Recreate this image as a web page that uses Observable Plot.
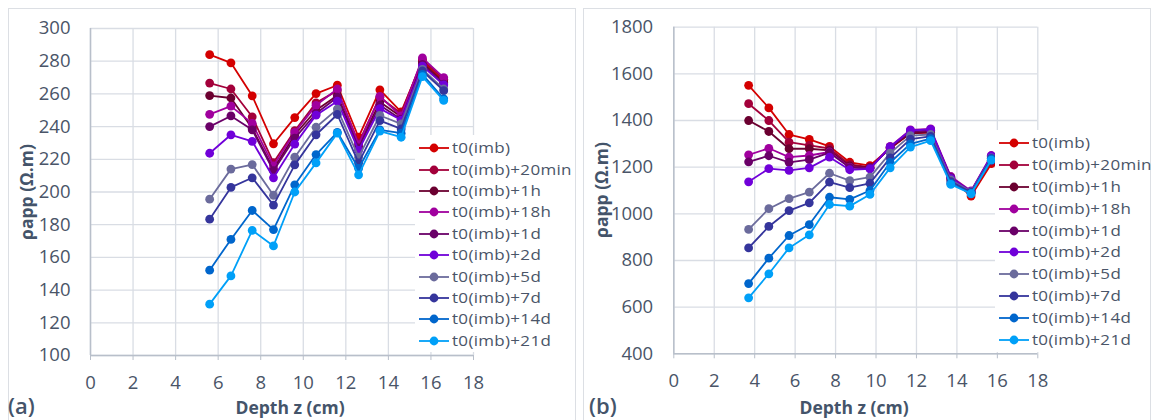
<!DOCTYPE html>
<html><head><meta charset="utf-8">
<script src="https://cdn.jsdelivr.net/npm/d3@7"></script>
<script src="https://cdn.jsdelivr.net/npm/@observablehq/plot@0.6"></script>
<style>
body{margin:0;background:#fff;}
#root{position:relative;width:1156px;height:420px;overflow:hidden;font-family:"Open Sans",sans-serif;color:#44546a;background:#fff;}
.panel{position:absolute;top:8px;height:440px;border:1px solid #dcdfe4;box-sizing:border-box;}
.plot{position:absolute;top:0;}
.ytitle{position:absolute;transform:translate(-50%,-50%) rotate(-90deg);font-weight:bold;font-size:17.5px;white-space:nowrap;line-height:1;}
.xtitle{position:absolute;transform:translate(-50%,-50%);font-weight:bold;font-size:17.5px;white-space:nowrap;line-height:1;}
.tag{position:absolute;transform:translateY(-50%);font-weight:600;font-size:22px;line-height:1.2;}
.legend{position:absolute;background:#fff;}
.lrow{position:absolute;height:20px;line-height:20px;font-size:17px;letter-spacing:0.3px;white-space:nowrap;color:#4a5568;}
.lrow svg{position:absolute;left:0;top:4px;}
.lrow span{position:absolute;left:33px;top:0;line-height:20px;transform:scaleY(0.9);transform-origin:0 50%;}
</style>
</head><body>
<div id="root"></div>
<script>
// ---- data ----
const seriesNames = ["t0(imb)","t0(imb)+20min","t0(imb)+1h","t0(imb)+18h","t0(imb)+1d","t0(imb)+2d","t0(imb)+5d","t0(imb)+7d","t0(imb)+14d","t0(imb)+21d"];
const seriesColors = ["#d40000","#a3003a","#6b0030","#a0009e","#6a0068","#7000d9","#6b6b9c","#35359c","#0066cc","#00a0f8"];

// panel (a)
const depthA = [5.6,6.6,7.6,8.6,9.6,10.6,11.6,12.6,13.6,14.6,15.6,16.6];
const a_t0    = [284,279,258.8,229.5,245.5,260.2,265.3,233.5,262.5,249,280,268];
const a_20min = [266.6,263,246,218,237.5,254.5,262,230,258,248,281,269];
const a_1h    = [259,257.5,239,214,235,250,259,228,255,246,279,267];
const a_18h   = [247.5,252.5,242,216,236.5,253,263,229,258.5,246.5,282,270];
const a_1d    = [240,246.5,238,213,233,248,258,227,253,244.5,278,266];
const a_2d    = [223.7,235,231,208.7,229.3,247,255.5,225.5,251,244,277,265.5];
const a_5d    = [195.6,214,216.8,198,221.3,239.6,250.7,221.3,246.8,241.7,275,263];
const a_7d    = [183.4,202.8,208.7,192,216.6,235,247.4,217.8,243.7,238.6,274,262];
const a_14d   = [152.2,171,188.7,177,204.4,222.9,236.5,214.5,238,236,272,257];
const a_21d   = [131.4,148.7,176.5,167,200,217.8,236,210.5,237.2,233.5,270.6,256];

// panel (b)
const depthB = [3.7,4.7,5.7,6.7,7.7,8.7,9.7,10.7,11.7,12.7,13.7,14.7,15.7];
const b_t0    = [1551,1454,1340,1319,1289,1221,1207,1280,1345,1348,1150,1076,1215];
const b_20min = [1472,1400,1307,1293,1280,1212,1200,1282,1348,1352,1155,1090,1225];
const b_1h    = [1400,1353,1279,1279,1272,1205,1198,1283,1345,1350,1150,1092,1230];
const b_18h   = [1253,1281,1243,1250,1265,1200,1196,1289,1360,1364,1160,1098,1250];
const b_1d    = [1223,1249,1221,1232,1262,1198,1195,1285,1352,1358,1155,1095,1245];
const b_2d    = [1137,1194,1186,1197,1243,1189,1193,1287,1358,1362,1152,1096,1248];
const b_5d    = [933,1022,1065,1093,1174,1142,1157,1260,1335,1340,1145,1094,1240];
const b_7d    = [854,946,1014,1047,1136,1112,1131,1240,1320,1332,1138,1092,1238];
const b_14d   = [701,810,907,954,1071,1062,1100,1220,1300,1322,1130,1088,1235];
const b_21d   = [640,743,854,910,1040,1033,1083,1197,1286,1314,1126,1086,1230];

const xTicks = [0,2,4,6,8,10,12,14,16,18];
const yTicksA = [100,120,140,160,180,200,220,240,260,280,300];
const yTicksB = [400,600,800,1000,1200,1400,1600,1800];
const yTitle = "ρapp (Ω.m)";
const xTitle = "Depth z (cm)";

const valuesA = [a_t0,a_20min,a_1h,a_18h,a_1d,a_2d,a_5d,a_7d,a_14d,a_21d];
const valuesB = [b_t0,b_20min,b_1h,b_18h,b_1d,b_2d,b_5d,b_7d,b_14d,b_21d];

const TXT = "#4a5568", GRID = "#d9dde4", AXIS = "#b8bfca";

function makePlot(depth, values, yTicks, m) {
  const marks = [
    Plot.gridX(xTicks, {stroke: GRID, strokeOpacity: 1, strokeWidth: 1.3}),
    Plot.gridY(yTicks, {stroke: GRID, strokeOpacity: 1, strokeWidth: 1.3}),
    Plot.ruleX([0], {stroke: AXIS, strokeWidth: 1.5}),
    Plot.ruleY([yTicks[0]], {stroke: AXIS, strokeWidth: 1.5}),
    Plot.axisX(xTicks, {tickSize: 5, tickPadding: 15, stroke: AXIS, fill: TXT, label: null, tickFormat: d => String(d)}),
    Plot.axisY(yTicks, {tickSize: 0, tickPadding: m.yPad, fill: TXT, label: null, tickFormat: d => String(d)})
  ];
  values.forEach((vals, i) => {
    const rows = depth.map((d, j) => ({x: d, y: vals[j]}));
    marks.push(Plot.line(rows, {x: "x", y: "y", stroke: seriesColors[i], strokeWidth: 1.8}));
    marks.push(Plot.dot(rows, {x: "x", y: "y", fill: seriesColors[i], r: 4.4}));
  });
  return Plot.plot({
    width: m.width, height: 420,
    marginLeft: m.left, marginRight: m.right, marginTop: m.top, marginBottom: m.bottom,
    x: {domain: [0, 18]},
    y: {domain: [yTicks[0], yTicks[yTicks.length - 1]]},
    style: {fontFamily: '"Open Sans", sans-serif', fontSize: "18.5px", background: "transparent", overflow: "visible"},
    marks
  });
}

const root = document.getElementById("root");
function add(html) { const d = document.createElement("div"); d.innerHTML = html; const el = d.firstChild; root.appendChild(el); return el; }

add('<div class="panel" style="left:8px;width:568px;"></div>');
add('<div class="panel" style="left:583px;width:568px;"></div>');

const pA = makePlot(depthA, valuesA, yTicksA, {width: 578, left: 90, right: 105, top: 28, bottom: 65, yPad: 20});
pA.classList.add("plot"); pA.style.left = "0px"; root.appendChild(pA);
const pB = makePlot(depthB, valuesB, yTicksB, {width: 578, left: 95.3, right: 118.7, top: 26.7, bottom: 66.7, yPad: 20.6});
pB.classList.add("plot"); pB.style.left = "578px"; root.appendChild(pB);

function legend(left, top, w, h, x0, y0, step) {
  add(`<div class="legend" style="left:${left}px;top:${top}px;width:${w}px;height:${h}px;"></div>`);
  seriesNames.forEach((name, i) => {
    const cy = y0 + i * step;
    add(`<div class="lrow" style="left:${x0}px;top:${cy - 10}px;"><svg width="32" height="12"><line x1="0" y1="6" x2="30" y2="6" stroke="${seriesColors[i]}" stroke-width="1.8"/><circle cx="15" cy="6" r="4.4" fill="${seriesColors[i]}"/></svg><span>${name}</span></div>`);
  });
}
legend(415, 135, 158, 217, 419, 148.3, 21.37);
legend(995, 130, 154, 222, 999, 143.3, 21.8);

add(`<div class="ytitle" style="left:27px;top:192px;">${yTitle}</div>`);
add(`<div class="ytitle" style="left:602px;top:190px;">${yTitle}</div>`);
add(`<div class="xtitle" style="left:290px;top:408px;">${xTitle}</div>`);
add(`<div class="xtitle" style="left:854px;top:408px;">${xTitle}</div>`);
add('<div class="tag" style="left:8px;top:405px;">(a)</div>');
add('<div class="tag" style="left:589px;top:405px;">(b)</div>');
</script>
</body></html>
